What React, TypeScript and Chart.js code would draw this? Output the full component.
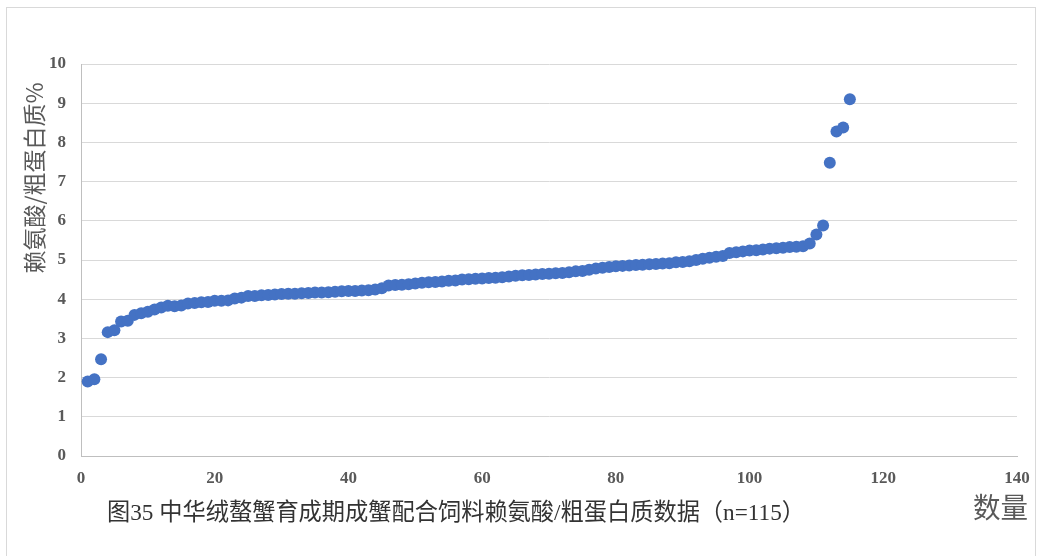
import React, { useEffect, useRef } from "react";
import { Chart, registerables } from "chart.js";

Chart.register(...registerables);

const sampleIndex: number[] = Array.from({ length: 115 }, (_, i) => i + 1);
const lysineRatio: number[] = [
  1.90, 1.96, 2.47, 3.16, 3.21, 3.43, 3.45, 3.60, 3.64, 3.68,
  3.74, 3.79, 3.83, 3.82, 3.84, 3.89, 3.90, 3.92, 3.93, 3.96,
  3.96, 3.97, 4.02, 4.04, 4.08, 4.08, 4.10, 4.11, 4.12, 4.13,
  4.14, 4.14, 4.15, 4.16, 4.17, 4.17, 4.18, 4.19, 4.20, 4.21,
  4.21, 4.22, 4.23, 4.25, 4.28, 4.35, 4.36, 4.37, 4.38, 4.40,
  4.42, 4.43, 4.44, 4.45, 4.47, 4.48, 4.50, 4.51, 4.52, 4.53,
  4.54, 4.55, 4.56, 4.58, 4.60, 4.61, 4.62, 4.63, 4.64, 4.65,
  4.66, 4.67, 4.69, 4.71, 4.72, 4.75, 4.78, 4.80, 4.82, 4.84,
  4.85, 4.86, 4.87, 4.88, 4.89, 4.90, 4.91, 4.92, 4.94, 4.95,
  4.97, 5.00, 5.03, 5.06, 5.08, 5.10, 5.18, 5.20, 5.22, 5.24,
  5.25, 5.27, 5.29, 5.30, 5.31, 5.33, 5.34, 5.35, 5.42, 5.65,
  5.88, 7.48, 8.28, 8.38, 9.10,
];

const yAxisTitle = "赖氨酸/粗蛋白质%";
const xAxisTitle = "数量";
const caption = "图35 中华绒螯蟹育成期成蟹配合饲料赖氨酸/粗蛋白质数据（n=115）";

const textPlugin = {
  id: "extraText",
  afterDraw(chart: any) {
    const ctx = chart.ctx;
    ctx.save();
    ctx.fillStyle = "#333333";
    ctx.textBaseline = "middle";
    // caption
    ctx.textAlign = "left";
    ctx.font = "24px 'Liberation Serif', 'Noto Sans CJK SC', serif";
    ctx.fillText(caption, 107, 514, 698);
    // x title
    ctx.font = "28px 'Noto Sans CJK SC', sans-serif";
    ctx.fillStyle = "#595959";
    ctx.fillText(xAxisTitle, 973, 507, 55);
    // y title
    ctx.translate(34, 178);
    ctx.rotate(-Math.PI / 2);
    ctx.textAlign = "center";
    ctx.font = "23px 'Noto Sans CJK SC', 'Liberation Serif', sans-serif";
    ctx.fillText(yAxisTitle, 0, 0, 192);
    ctx.restore();
  },
};

export default function App() {
  const ref = useRef<HTMLCanvasElement | null>(null);
  useEffect(() => {
    if (!ref.current) return;
    const chart = new Chart(ref.current, {
      type: "scatter",
      data: {
        datasets: [
          {
            data: sampleIndex.map((x, i) => ({ x, y: lysineRatio[i] })),
            backgroundColor: "#4472C4",
            borderColor: "#4472C4",
            pointRadius: 6,
            pointHoverRadius: 6,
            borderWidth: 0,
          },
        ],
      },
      options: {
        responsive: false,
        animation: false,
        layout: { padding: { left: 0, right: 21, top: 64, bottom: 0 } },
        plugins: { legend: { display: false }, tooltip: { enabled: false } },
        scales: {
          x: {
            type: "linear",
            min: 0,
            max: 140,
            afterFit: (s: any) => {
              s.height = 100;
              s.paddingLeft = 0;
              s.paddingRight = 0;
            },
            ticks: {
              stepSize: 20,
              padding: 12,
              color: "#595959",
              font: { family: "'Liberation Serif', serif", size: 17, weight: "bold" },
            },
            grid: { display: false, drawTicks: false },
            border: { display: true, color: "#bfbfbf", width: 1 },
          },
          y: {
            min: 0,
            max: 10,
            afterFit: (s: any) => {
              s.width = 81;
              s.paddingTop = 0;
              s.paddingBottom = 0;
            },
            ticks: {
              stepSize: 1,
              padding: 15,
              color: "#595959",
              font: { family: "'Liberation Serif', serif", size: 17, weight: "bold" },
            },
            grid: { color: "#d9d9d9", drawTicks: false, lineWidth: 1 },
            border: { display: true, color: "#bfbfbf", width: 1 },
          },
        },
      },
      plugins: [textPlugin],
    });
    return () => chart.destroy();
  }, []);
  return (
    <div style={{ position: "absolute", left: 0, top: 0, width: 1038, height: 556, background: "#fff" }}>
      <div
        style={{
          position: "absolute",
          left: 6,
          top: 7,
          width: 1030,
          height: 560,
          border: "1px solid #d9d9d9",
          boxSizing: "border-box",
        }}
      />
      <canvas ref={ref} width={1038} height={556} style={{ position: "absolute", left: 0, top: 0 }} />
    </div>
  );
}
